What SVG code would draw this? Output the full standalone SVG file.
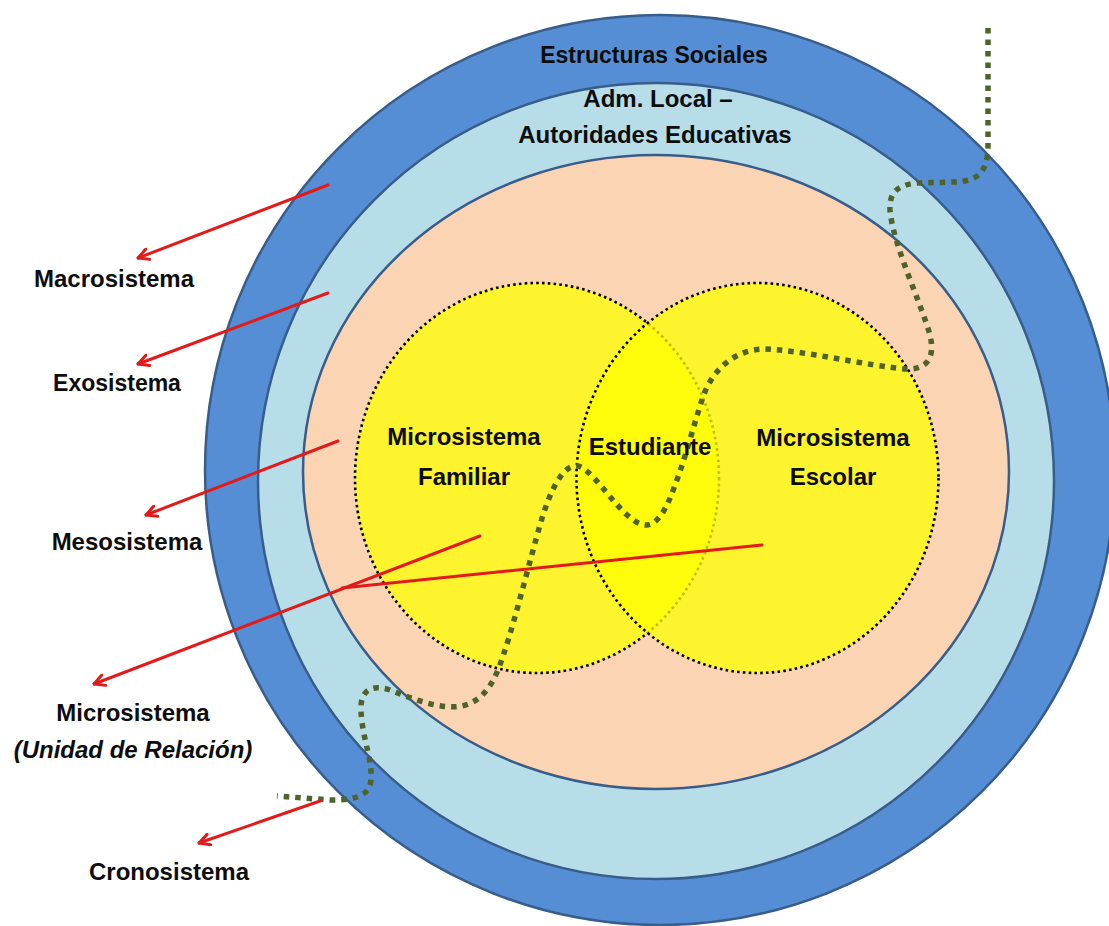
<svg xmlns="http://www.w3.org/2000/svg" width="1109" height="926" viewBox="0 0 1109 926">
  <defs>
    <style>
      .ring { stroke: #385D8A; stroke-width: 2.5; }
      .micro { fill: #FFFF00; fill-opacity: 0.75; stroke: #000; stroke-width: 2.6; stroke-dasharray: 2.6 3.2; }
      .lbl { font-family: "Liberation Sans", Arial, sans-serif; font-weight: bold; font-size: 24px; fill: #0D0D0D; text-anchor: middle; }
      .sm { font-size: 23px; }
      .it { font-style: italic; }
      .red { stroke: #E31A1A; stroke-width: 3; fill: none; stroke-linecap: round; }
      .arr { marker-end: url(#ah); }
      .chrono { fill: none; stroke: #4F6228; stroke-width: 5.5; stroke-dasharray: 5.5 6; }
    </style>
    <marker id="ah" viewBox="0 0 14 14" refX="12.5" refY="7" markerWidth="14" markerHeight="14" markerUnits="userSpaceOnUse" orient="auto">
      <path d="M2,1.5 L12.5,7 L2,12.5" fill="none" stroke="#E31A1A" stroke-width="3" stroke-linecap="round" stroke-linejoin="round"/>
    </marker>
  </defs>
  <rect width="1109" height="926" fill="#FFFFFF"/>

  <g id="ring-macrosistema">
    <ellipse class="ring" cx="660" cy="470" rx="455" ry="455" fill="#558ED5"/>
  </g>
  <g id="ring-exosistema">
    <ellipse class="ring" cx="656" cy="481" rx="398" ry="398" fill="#B7DEE8"/>
  </g>
  <g id="ring-mesosistema">
    <ellipse class="ring" cx="656" cy="472" rx="353" ry="317" fill="#FBD4B4"/>
  </g>
  <g id="microsistema-familiar">
    <ellipse class="micro" cx="537" cy="478" rx="182" ry="195"/>
  </g>
  <g id="microsistema-escolar">
    <ellipse class="micro" cx="757.5" cy="478" rx="181" ry="195"/>
  </g>

  <g id="cronosistema-path">
    <path class="chrono" d="M 988,28 L 988,145 C 988,172 978,181 955,182 L 917,183 C 897,185 889,193 890,210 C 893,245 920,300 930,335 C 936,360 925,370 905,369 C 870,366 800,350 765,349 C 735,349 712,370 703,397 C 695,420 685,460 675,485 C 667,508 658,525 646,525 C 630,525 610,495 593,477 C 585,469 580,465 574,466 C 562,468 550,490 540,525 C 530,560 515,620 505,650 C 497,675 488,700 462,706 C 440,710 410,698 390,690 C 372,684 360,690 361,710 C 362,740 375,765 370,785 C 366,798 350,800 330,800 L 277,796"/>
  </g>

  <g id="labels-rings">
    <text class="lbl sm" x="654" y="63">Estructuras Sociales</text>
    <text class="lbl" x="658" y="107">Adm. Local –</text>
    <text class="lbl" x="655" y="143">Autoridades Educativas</text>
  </g>
  <g id="label-familiar">
    <text class="lbl" x="464" y="445">Microsistema</text>
    <text class="lbl" x="464" y="485">Familiar</text>
  </g>
  <g id="label-estudiante">
    <text class="lbl" x="650" y="455">Estudiante</text>
  </g>
  <g id="label-escolar">
    <text class="lbl" x="833" y="446">Microsistema</text>
    <text class="lbl" x="833" y="485">Escolar</text>
  </g>

  <g id="label-macrosistema"><text class="lbl" x="114" y="287">Macrosistema</text></g>
  <g id="label-exosistema"><text class="lbl sm" x="117" y="391">Exosistema</text></g>
  <g id="label-mesosistema"><text class="lbl" x="127" y="550">Mesosistema</text></g>
  <g id="label-microsistema">
    <text class="lbl" x="133" y="721">Microsistema</text>
    <text class="lbl it" x="133" y="758">(Unidad de Relación)</text>
  </g>
  <g id="label-cronosistema"><text class="lbl" x="169" y="880">Cronosistema</text></g>

  <g id="connectors">
    <line class="red arr" x1="328" y1="185" x2="138" y2="258"/>
    <line class="red arr" x1="328" y1="293" x2="138" y2="364"/>
    <line class="red arr" x1="338" y1="441" x2="146" y2="515"/>
    <line class="red arr" x1="480" y1="536" x2="94" y2="684"/>
    <line class="red" x1="762" y1="545" x2="342" y2="588"/>
    <line class="red arr" x1="320" y1="801" x2="199" y2="843"/>
  </g>
</svg>
